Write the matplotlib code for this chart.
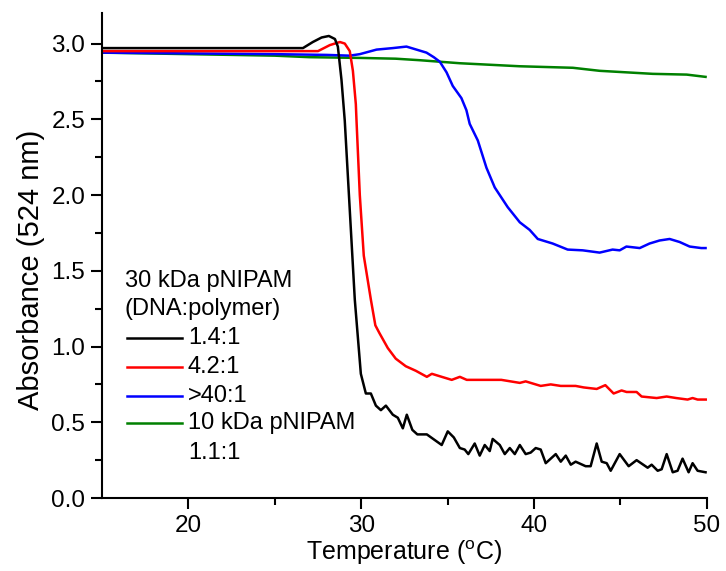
import matplotlib
matplotlib.use("Agg")
import matplotlib.pyplot as plt

plt.rcParams['font.family'] = ['Liberation Sans', 'DejaVu Sans']
plt.rcParams['mathtext.fontset'] = 'custom'
plt.rcParams['mathtext.rm'] = 'Liberation Sans'

# readings (temperature in C, absorbance at 524 nm)
t_black = [15, 20, 26.63, 27.20, 27.71, 28.13, 28.48, 28.65, 28.86, 29.05, 29.34, 29.63,
           29.98, 30.27, 30.56, 30.85, 31.14, 31.43, 31.83, 32.12, 32.41, 32.64, 32.96,
           33.25, 33.80, 34.66, 35.01, 35.36, 35.71, 35.99, 36.20, 36.57, 36.86, 37.15,
           37.44, 37.61, 38.02, 38.31, 38.60, 38.89, 39.18, 39.52, 39.81, 40.10, 40.39,
           40.68, 41.26, 41.55, 41.84, 42.13, 42.41, 42.99, 43.28, 43.63, 43.92, 44.21,
           44.44, 44.96, 45.48, 45.94, 46.58, 46.81, 47.16, 47.39, 47.68, 48.03, 48.31,
           48.60, 48.95, 49.18, 49.47, 49.93]
a_black = [2.97, 2.97, 2.97, 3.01, 3.04, 3.05, 3.03, 2.98, 2.76, 2.49, 1.90, 1.31,
           0.82, 0.69, 0.69, 0.61, 0.58, 0.61, 0.55, 0.53, 0.46, 0.55, 0.45,
           0.42, 0.42, 0.35, 0.44, 0.40, 0.33, 0.32, 0.29, 0.36, 0.28, 0.35,
           0.31, 0.39, 0.35, 0.29, 0.33, 0.29, 0.35, 0.29, 0.30, 0.33, 0.32,
           0.23, 0.29, 0.24, 0.28, 0.22, 0.24, 0.21, 0.21, 0.36, 0.24, 0.23,
           0.18, 0.29, 0.21, 0.25, 0.20, 0.22, 0.18, 0.19, 0.29, 0.17, 0.18,
           0.26, 0.17, 0.23, 0.18, 0.17]

t_red = [15, 20, 27.5, 28.19, 28.77, 29.05, 29.34, 29.52, 29.69, 29.73, 29.92, 30.15,
         30.56, 30.82, 31.05, 31.54, 32.00, 32.58, 33.16, 33.80, 34.09, 34.66, 35.24,
         35.71, 36.11, 37.33, 38.11, 39.18, 39.52, 40.39, 40.97, 41.55, 42.41, 42.88,
         43.63, 44.13, 44.61, 45.07, 45.36, 45.94, 46.23, 47.10, 47.68, 48.23, 48.89,
         49.18, 49.47, 49.94]
a_red = [2.95, 2.95, 2.95, 2.99, 3.01, 3.00, 2.95, 2.82, 2.60, 2.49, 2.00, 1.60,
         1.31, 1.14, 1.09, 0.99, 0.92, 0.87, 0.84, 0.80, 0.82, 0.80, 0.78,
         0.80, 0.78, 0.78, 0.78, 0.76, 0.77, 0.74, 0.75, 0.74, 0.74, 0.73,
         0.72, 0.745, 0.69, 0.71, 0.70, 0.70, 0.67, 0.66, 0.67, 0.66, 0.65,
         0.66, 0.65, 0.65]

t_blue = [15, 20, 25, 28, 29.34, 29.92, 30.89, 31.83, 32.62, 33.20, 33.78, 34.20,
          34.55, 34.94, 35.30, 35.80, 36.09, 36.28, 36.75, 37.25, 37.73, 38.48, 39.18,
          39.75, 40.22, 41.08, 41.95, 42.82, 43.80, 44.55, 44.96, 45.35, 46.12, 46.69,
          47.27, 47.85, 48.43, 49.01, 49.68, 49.93]
a_blue = [2.94, 2.935, 2.93, 2.925, 2.92, 2.93, 2.96, 2.97, 2.98, 2.96, 2.94, 2.91,
          2.88, 2.81, 2.72, 2.64, 2.56, 2.47, 2.36, 2.18, 2.05, 1.92, 1.82,
          1.77, 1.71, 1.68, 1.64, 1.635, 1.62, 1.64, 1.635, 1.66, 1.65, 1.68,
          1.70, 1.71, 1.69, 1.66, 1.65, 1.65]

t_green = [15, 20, 25, 27, 30, 32, 33.39, 35.71, 39.18, 42.25, 43.80, 46.87, 48.84, 49.93]
a_green = [2.94, 2.93, 2.92, 2.91, 2.905, 2.90, 2.89, 2.87, 2.85, 2.84, 2.82, 2.80, 2.795, 2.78]

fig = plt.figure(figsize=(7.26, 5.71), dpi=100)
ax = fig.add_axes([0.1405, 0.1278, 0.833, 0.849])

lw = 1.8
ax.plot(t_green, a_green, color='#008000', lw=lw)
ax.plot(t_blue, a_blue, color='#0000ff', lw=lw)
ax.plot(t_red, a_red, color='#ff0000', lw=lw)
ax.plot(t_black, a_black, color='black', lw=lw)

ax.set_xlim(15, 50)
ax.set_ylim(0, 3.2)
ax.set_xticks([20, 30, 40, 50])
ax.set_xticks([25, 35, 45], minor=True)
ax.set_yticks([0, 0.5, 1.0, 1.5, 2.0, 2.5, 3.0])
ax.set_yticklabels(['0.0', '0.5', '1.0', '1.5', '2.0', '2.5', '3.0'])
ax.set_yticks([0.25, 0.75, 1.25, 1.75, 2.25, 2.75], minor=True)
ax.spines['top'].set_visible(False)
ax.spines['right'].set_visible(False)
for s in ['left', 'bottom']:
    ax.spines[s].set_linewidth(1.5)
ax.tick_params(which='major', direction='out', length=8, width=1.5, labelsize=17.5, pad=4)
ax.tick_params(which='minor', direction='out', length=5, width=1.5)

ax.set_xlabel(r'Temperature ($^{\rm o}$C)', fontsize=18, labelpad=1)
ax.set_ylabel('Absorbance (524 nm)', fontsize=21)
ax.yaxis.set_label_coords(-0.094, 0.47)

# hand-made legend
fs = 17
ax.text(0.038, 0.448, '30 kDa pNIPAM', transform=ax.transAxes, fontsize=fs, va='center')
ax.text(0.038, 0.389, '(DNA:polymer)', transform=ax.transAxes, fontsize=fs, va='center')
rows = [('1.4:1', 'black', 0.330), ('4.2:1', '#ff0000', 0.271),
        ('>40:1', '#0000ff', 0.210), ('10 kDa pNIPAM', '#008000', 0.154)]
for lab, c, yy in rows:
    ax.plot([0.041, 0.132], [yy, yy], color=c, lw=lw, transform=ax.transAxes)
    ax.text(0.142, yy, lab, transform=ax.transAxes, fontsize=fs, va='center')
ax.text(0.142, 0.093, '1.1:1', transform=ax.transAxes, fontsize=fs, va='center')

fig.savefig('out.png', dpi=100)
